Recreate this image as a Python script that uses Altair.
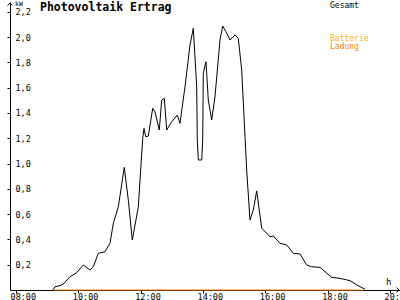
import altair as alt
import pandas as pd

# Gesamt (total output) — time in decimal hours, power in kW
hours = [9.187, 9.251, 9.412, 9.517, 9.732, 9.947, 10.159, 10.374, 10.480, 10.640,
         10.855, 11.016, 11.122, 11.282, 11.474, 11.603, 11.731, 11.924, 12.065, 12.106,
         12.161, 12.244, 12.386, 12.459, 12.597, 12.674, 12.758, 12.835, 12.995, 13.175,
         13.261, 13.422, 13.582, 13.688, 13.797, 13.816, 13.849, 13.958, 13.990, 14.009,
         14.095, 14.169, 14.278, 14.384, 14.545, 14.631, 14.737, 14.866, 15.026, 15.132,
         15.241, 15.347, 15.401, 15.507, 15.613, 15.722, 15.883, 16.149, 16.255, 16.470,
         16.685, 16.896, 17.111, 17.326, 17.487, 17.753, 18.128, 18.394, 18.715, 18.930,
         19.197]
gesamt = [0.0, 0.026, 0.034, 0.047, 0.105, 0.137, 0.198, 0.158, 0.184, 0.290,
          0.303, 0.369, 0.527, 0.658, 0.970, 0.711, 0.395, 0.658, 1.198, 1.278,
          1.212, 1.217, 1.436, 1.409, 1.265, 1.502, 1.515, 1.265, 1.330, 1.383,
          1.318, 1.607, 1.937, 2.069, 1.607, 1.186, 1.028, 1.028, 1.186, 1.713,
          1.805, 1.502, 1.344, 1.528, 1.976, 2.087, 2.042, 1.976, 2.016, 1.990,
          1.739, 1.212, 0.949, 0.553, 0.632, 0.783, 0.488, 0.421, 0.427, 0.369,
          0.356, 0.290, 0.285, 0.198, 0.184, 0.179, 0.100, 0.092, 0.074, 0.040,
          0.006]

# Batterie Ladung (battery charge)
ladung_hours = [9.19, 19.13]
ladung = [0.0, 0.0]

x_ticks = [8, 10, 12, 14, 16, 18, 20]
y_ticks = [0.2, 0.4, 0.6, 0.8, 1.0, 1.2, 1.4, 1.6, 1.8, 2.0, 2.2]

FONT = "DejaVu Sans Mono"
X_DOMAIN = [7.807, 20.32]
Y_DOMAIN = [0, 2.277]

df_g = pd.DataFrame({"h": hours, "kw": gesamt})
df_l = pd.DataFrame({"h": ladung_hours, "kw": ladung})

xscale = alt.Scale(domain=X_DOMAIN, nice=False, zero=False)
yscale = alt.Scale(domain=Y_DOMAIN, nice=False)

x_axis = alt.Axis(
    values=x_ticks, title=None, grid=False,
    labelExpr="(datum.value < 10 ? '0' : '') + datum.value + ':00'",
    labelFont=FONT, labelFontSize=8.5, labelColor="black",
    labelAlign="left", labelOffset=-6, labelPadding=6, labelBaseline="alphabetic",
    tickSize=3, tickColor="black", domainColor="black", labelFlush=False,
    labelOverlap=False, labelBound=False,
)
y_axis = alt.Axis(
    values=y_ticks, title=None, grid=False,
    labelExpr="replace(format(datum.value, '.1f'), '.', ',')",
    labelFont=FONT, labelFontSize=8.5, labelColor="black",
    labelAlign="left", labelPadding=-8, labelBaseline="middle",
    tickSize=3, tickColor="black", domainColor="black", labelFlush=False,
    labelOverlap=False, labelBound=False,
)

line_g = alt.Chart(df_g).mark_line(color="black", strokeWidth=1, clip=True).encode(
    x=alt.X("h:Q", scale=xscale, axis=x_axis),
    y=alt.Y("kw:Q", scale=yscale, axis=y_axis),
)
line_l = alt.Chart(df_l).mark_line(color="#ff8000", strokeWidth=1.2).encode(
    x=alt.X("h:Q", scale=xscale, axis=x_axis),
    y=alt.Y("kw:Q", scale=yscale, axis=y_axis),
)

def txt(s, x, y, size=8, color="black", weight="normal", align="left", baseline="alphabetic"):
    return alt.Chart(pd.DataFrame({"t": [s]})).mark_text(
        font=FONT, fontSize=size, color=color, fontWeight=weight,
        align=align, baseline=baseline,
    ).encode(text="t:N", x=alt.value(x), y=alt.value(y))

title = txt("Photovoltaik Ertrag", 30, 9, size=11.5, weight="bold")
kw = txt("kW", 5, 3.5, size=6.5)
h_lbl = txt("h", 376, 283, size=9)
gesamt_lbl = txt("Gesamt", 320, 6, size=8)
batt_lbl = txt("Batterie", 320, 39, size=8, color="#ffb000")
lad_lbl = txt("Ladung", 320, 47, size=8, color="#ff8000")

arrow_up = alt.Chart(pd.DataFrame({"a": [0]})).mark_point(
    shape="M-1,1L0,0L1,1", size=25, color="black", strokeWidth=1, filled=False, opacity=1
).encode(x=alt.value(0), y=alt.value(1))
arrow_right = alt.Chart(pd.DataFrame({"a": [0]})).mark_point(
    shape="M-1,-1L0,0L-1,1", size=25, color="black", strokeWidth=1, filled=False, opacity=1
).encode(x=alt.value(389), y=alt.value(288))

chart = alt.layer(
    line_g, line_l, title, kw, h_lbl, gesamt_lbl, batt_lbl, lad_lbl, arrow_up, arrow_right
).properties(
    width=390, height=288,
    autosize=alt.AutoSizeParams(type="none"),
    padding={"left": 10, "top": 2, "right": 0, "bottom": 10},
    background="white",
).configure_view(stroke=None)

chart.save("out.html", embed_options={"renderer": "svg", "actions": False})
